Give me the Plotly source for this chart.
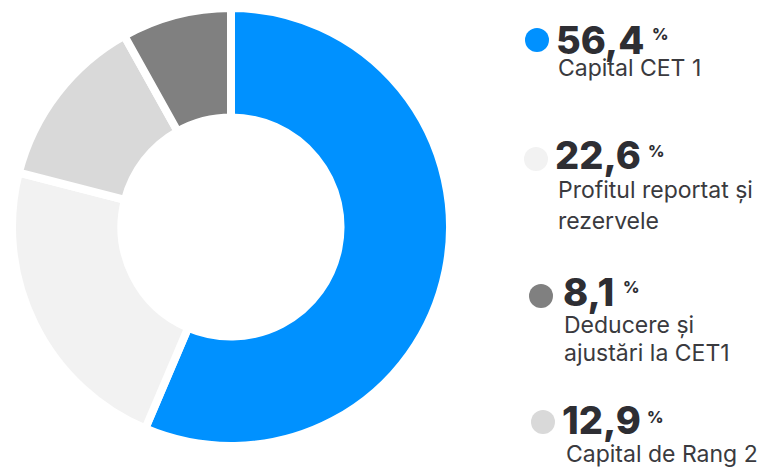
import plotly.graph_objects as go

# Capital structure shares (%)
labels = ["Capital CET 1", "Profitul reportat și rezervele", "Capital de Rang 2", "Deducere și ajustări la CET1"]
values = [56.4, 22.6, 12.9, 8.1]
colors = ["#0091ff", "#f2f2f2", "#d9d9d9", "#808080"]

# Legend entries (display order) with value text and caption lines
legend_values = ["56,4", "22,6", "8,1", "12,9"]
legend_colors = ["#0091ff", "#f2f2f2", "#808080", "#d9d9d9"]
legend_captions = [
    ["Capital CET 1"],
    ["Profitul reportat și", "rezervele"],
    ["Deducere și", "ajustări la CET1"],
    ["Capital de Rang 2"],
]

W, H = 766, 467

# Legend layout in pixels: circle centre, number anchor, percent anchor, caption lines
dot_xy = [(537, 40), (536, 159), (541, 296), (543, 422)]
num_xy = [(554, 40), (553, 155), (561, 292), (560, 420)]
pct_xy = [(650, 34), (646, 151), (621, 287), (645, 417)]
cap_x = [556, 556, 562, 564]
cap_y = [[68], [190, 221], [325, 353], [454]]
DOT_R = 12


def px(x):
    return x / W


def py(y):
    return 1 - y / H


fig = go.Figure(
    go.Pie(
        labels=labels,
        values=values,
        hole=0.5,
        sort=False,
        direction="clockwise",
        rotation=0,
        marker=dict(colors=colors, line=dict(color="#ffffff", width=8)),
        textinfo="none",
        hoverinfo="label+percent",
        domain=dict(x=[px(12), px(450)], y=[py(446), py(8)]),
        showlegend=False,
    )
)

shapes = []
annotations = []
num_font = dict(family="Inter ExtraBold, Inter", size=38, color="#2e2e33", weight=800)
pct_font = dict(family="Inter ExtraBold, Inter", size=16, color="#2e2e33", weight=800)
cap_font = dict(family="Inter", size=23, color="#3a3a3e")

for i in range(len(legend_values)):
    cx, cy = dot_xy[i]
    shapes.append(dict(
        type="circle", xref="paper", yref="paper",
        x0=px(cx - DOT_R), x1=px(cx + DOT_R),
        y0=py(cy + DOT_R), y1=py(cy - DOT_R),
        fillcolor=legend_colors[i], line=dict(width=0),
    ))
    nx, ny = num_xy[i]
    annotations.append(dict(
        x=px(nx), y=py(ny), xref="paper", yref="paper",
        text=legend_values[i], showarrow=False,
        xanchor="left", yanchor="middle", font=num_font,
    ))
    qx, qy = pct_xy[i]
    annotations.append(dict(
        x=px(qx), y=py(qy), xref="paper", yref="paper",
        text="%", showarrow=False,
        xanchor="left", yanchor="middle", font=pct_font,
    ))
    for line, ly in zip(legend_captions[i], cap_y[i]):
        annotations.append(dict(
            x=px(cap_x[i]), y=py(ly), xref="paper", yref="paper",
            text=line, showarrow=False,
            xanchor="left", yanchor="middle", font=cap_font,
        ))

fig.update_layout(
    width=W, height=H,
    margin=dict(l=0, r=0, t=0, b=0),
    paper_bgcolor="#ffffff",
    plot_bgcolor="#ffffff",
    shapes=shapes,
    annotations=annotations,
)

fig.write_html("out.html")
